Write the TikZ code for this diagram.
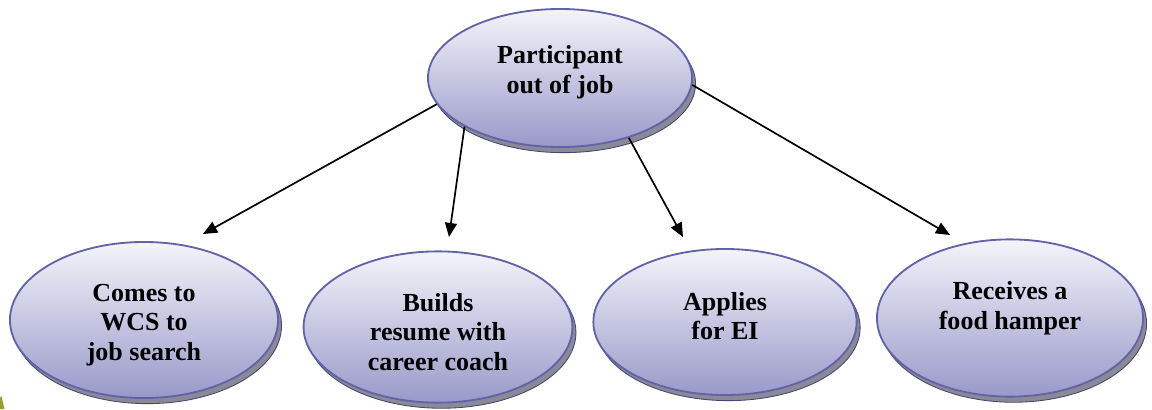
\documentclass[tikz,border=0pt]{standalone}
\usepackage{fontspec}
\setmainfont{Liberation Serif}
\usetikzlibrary{shapes.geometric,shadows,arrows.meta}
\definecolor{ovaltop}{HTML}{F4F4FA}
\definecolor{ovalbottom}{HTML}{9999CA}
\definecolor{ovalline}{HTML}{6262A8}
\definecolor{ovalshadow}{HTML}{8A8A96}
\definecolor{olivebit}{HTML}{9C9C2E}
\begin{document}
\begin{tikzpicture}[x=0.025cm, y=-0.025cm,
  oval/.style={ellipse, inner sep=0pt, draw=ovalline, line width=1.3pt, top color=ovaltop, bottom color=ovalbottom,
    drop shadow={shadow xshift=2.5pt, shadow yshift=-4pt, opacity=1, fill=ovalshadow, draw=ovalline!70!black, line width=0.6pt}},
  caption/.style={align=center, font=\bfseries\fontsize{18.5}{21}\selectfont},
  link/.style={line width=1.2pt, -{Triangle[length=10pt, width=8.5pt]}}]
\useasboundingbox (0,0) rectangle (1152,409);
\fill[olivebit] (0,409) -- (0,398) -- (1.5,396) -- (4.5,409) -- cycle;
\node[oval, minimum width=6.6cm, minimum height=3.45cm] (part) at (560,78) {};
\node[caption] (partText) at (560,72) {Participant\\out of job};
\node[oval, minimum width=6.7cm, minimum height=3.9cm] (wcs) at (144,320) {};
\node[caption] (wcsText) at (144,325) {Comes to\\WCS to\\job search};
\node[oval, minimum width=6.72cm, minimum height=3.78cm] (resume) at (438,327) {};
\node[caption] (resumeText) at (438,332) {Builds\\resume with\\career coach};
\node[oval, minimum width=6.58cm, minimum height=3.65cm] (ei) at (725,322) {};
\node[caption] (eiText) at (725,316) {Applies\\for EI};
\node[oval, minimum width=6.65cm, minimum height=3.93cm] (hamper) at (1010,318) {};
\node[caption] (hamperText) at (1010,308) {Receives a\\food hamper};
\coordinate (wcsEnd) at (203,234);
\coordinate (resumeEnd) at (449,237);
\coordinate (eiEnd) at (683,237);
\coordinate (hamperEnd) at (950,235);
\draw[link] (part.192.7) -- (wcsEnd);
\draw[link] (part.207.8) -- (resumeEnd);
\draw[link] (part.319.8) -- (eiEnd);
\draw[link] (part.357.9) -- (hamperEnd);
\end{tikzpicture}
\end{document}
